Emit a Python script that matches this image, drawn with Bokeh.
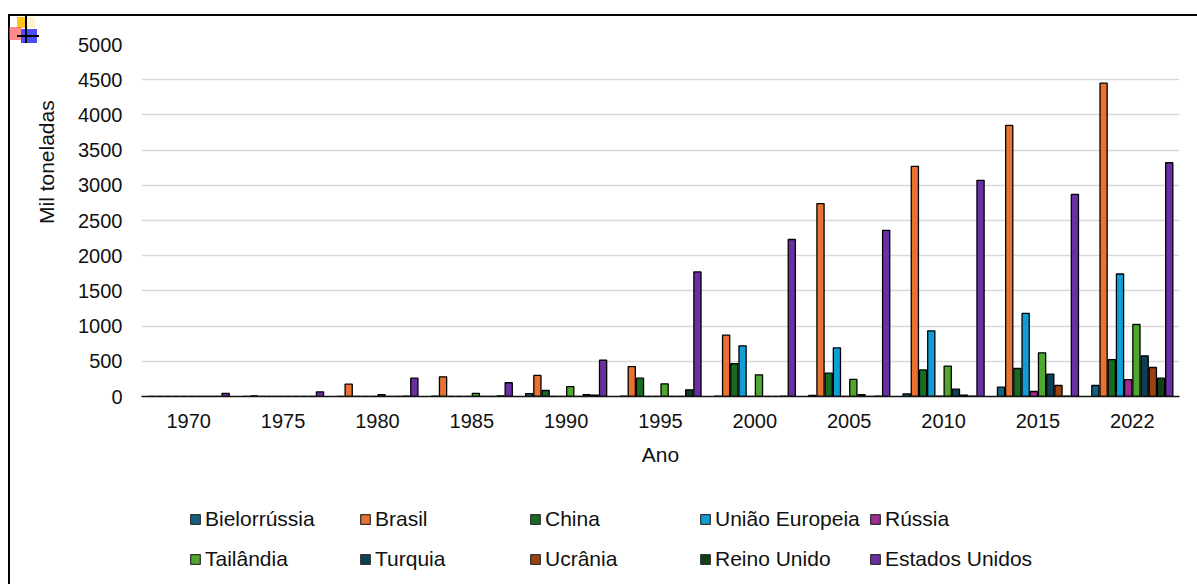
from bokeh.plotting import figure
from bokeh.layouts import column
from bokeh.models import ColumnDataSource, FactorRange, Range1d, Legend, LegendItem, LinearAxis, FixedTicker
from bokeh.transform import dodge
from bokeh.embed import file_html
from bokeh.resources import INLINE

anos = ["1970","1975","1980","1985","1990","1995","2000","2005","2010","2015","2022"]
bielorrussia = [0,0,0,5,40,5,5,15,38,133,156]
brasil = [0,10,175,280,300,425,871,2740,3270,3850,4450]
china = [0,0,0,0,85,260,465,332,378,398,525]
uniao_europeia = [0,0,0,0,0,0,720,690,933,1180,1740]
russia = [0,0,0,0,0,0,0,0,5,71,241]
tailandia = [0,0,25,45,140,180,308,242,432,620,1023]
turquia = [0,0,0,0,0,0,0,25,104,317,578]
ucrania = [0,0,0,0,25,0,0,0,20,156,412]
reino_unido = [0,0,5,10,20,95,5,5,5,5,260]
estados_unidos = [45,65,260,195,515,1770,2230,2360,3070,2870,3320]

nomes = ["Bielorrússia","Brasil","China","União Europeia","Rússia","Tailândia","Turquia","Ucrânia","Reino Unido","Estados Unidos"]
series = [bielorrussia,brasil,china,uniao_europeia,russia,tailandia,turquia,ucrania,reino_unido,estados_unidos]
cores = ["#156082","#E97132","#196B24","#0F9ED5","#A02B93","#4EA72E","#0E3F57","#9B420F","#0F4017","#6B2FA5"]
y_ticks = [0,500,1000,1500,2000,2500,3000,3500,4000,4500,5000]
FONT = "Liberation Sans"

def solid(c):
    return f"linear-gradient({c},{c})"

# moldura e ícone decorativo da página de origem, como fundo do elemento
fundo = ", ".join([
    solid("#000") + " 25px 16px/2px 27px no-repeat",
    solid("#000") + " 17px 35px/22px 2px no-repeat",
    solid("rgba(32,32,255,0.8)") + " 21px 29px/16px 14px no-repeat",
    solid("rgba(255,60,60,0.6)") + " 9px 27px/12px 13px no-repeat",
    solid("rgba(255,192,0,0.9)") + " 17px 17px/8px 11px no-repeat",
    solid("rgba(255,230,153,0.5)") + " 25px 17px/10px 11px no-repeat",
    solid("#000") + " 8px 14px/1189px 2px no-repeat",
    solid("#000") + " 8px 14px/2px 570px no-repeat",
])

p = figure(width=1197, height=500, output_backend="svg", toolbar_location=None,
           x_range=FactorRange(factors=anos, range_padding=0, factor_padding=0),
           y_range=Range1d(0, 5000),
           min_border_left=141, min_border_right=18, min_border_top=44, min_border_bottom=104,
           x_axis_label="Ano")
p.outline_line_color = None
p.background_fill_alpha = 0
p.border_fill_alpha = 0

source = ColumnDataSource({"ano": anos, **dict(zip(nomes, series))})

for i, (n, c) in enumerate(zip(nomes, cores)):
    p.vbar(x=dodge("ano", (i-4.5)*0.087, range=p.x_range), top=n, width=0.076, source=source,
           fill_color=c, line_color="#000000", line_width=1.3)

p.ygrid.grid_line_color = "#d9d9d9"
p.ygrid.grid_line_width = 1.5
p.xgrid.grid_line_color = None

p.yaxis.ticker = y_ticks
p.yaxis.axis_line_color = None
p.yaxis.major_tick_line_color = None
p.yaxis.major_tick_out = 0
p.yaxis.minor_tick_line_color = None
p.yaxis.major_label_text_font = FONT
p.yaxis.major_label_text_font_size = "20px"
p.yaxis.major_label_text_color = "#111111"
p.yaxis.major_label_standoff = 19

# eixo só para o título; os espaços iniciais deslocam o título para cima, como no original
eixo_titulo = LinearAxis(axis_label="\u00a0" * 20 + "Mil toneladas", ticker=FixedTicker(ticks=[]),
                         axis_line_color=None, major_tick_line_color=None, minor_tick_line_color=None,
                         major_tick_out=0, major_tick_in=0, minor_tick_out=0, minor_tick_in=0,
                         major_label_standoff=0, axis_label_standoff=18,
                         axis_label_text_font=FONT, axis_label_text_font_size="21px",
                         axis_label_text_font_style="normal", axis_label_text_color="#111111")
p.add_layout(eixo_titulo, "left")

p.xaxis.axis_line_color = "#111111"
p.xaxis.axis_line_width = 1.5
p.xaxis.major_tick_line_color = None
p.xaxis.major_tick_out = 0
p.xaxis.minor_tick_line_color = None
p.xaxis.major_label_text_font = FONT
p.xaxis.major_label_text_font_size = "20px"
p.xaxis.major_label_text_color = "#111111"
p.xaxis.major_label_standoff = 17
p.xaxis.axis_label_text_font = FONT
p.xaxis.axis_label_text_font_size = "21px"
p.xaxis.axis_label_text_font_style = "normal"
p.xaxis.axis_label_text_color = "#111111"
p.xaxis.axis_label_standoff = 12

# figura só para a legenda, por baixo do gráfico (os anos ficam fora do eixo x próprio: sem barras visíveis)
q = figure(width=1197, height=84, output_backend="svg", toolbar_location=None,
           x_range=FactorRange(factors=["legenda"]), y_range=Range1d(-2, -1),
           x_axis_location=None, y_axis_location=None,
           min_border_left=0, min_border_right=0, min_border_top=0, min_border_bottom=0)
q.outline_line_color = None
q.background_fill_alpha = 0
q.border_fill_alpha = 0
q.grid.visible = False
items = []
for n, c in zip(nomes, cores):
    r = q.vbar(x="ano", top=n, width=0.076, source=source, fill_color=c, line_color="#333333", line_width=1.3)
    items.append(LegendItem(label=n, renderers=[r]))
leg = Legend(items=items, ncols=5, location=(48, 10), orientation="horizontal",
             border_line_color=None, background_fill_alpha=0,
             glyph_width=12, glyph_height=12, label_standoff=4, spacing=9,
             label_width=145, label_height=31, margin=0, padding=0,
             label_text_font=FONT, label_text_font_size="21px", label_text_color="#111111")
q.add_layout(leg, "center")

page = column(p, q, width=1197, height=584, spacing=0, styles={"background": fundo})

out = open("out.html", "w")
out.write(file_html(page, INLINE))
out.close()
